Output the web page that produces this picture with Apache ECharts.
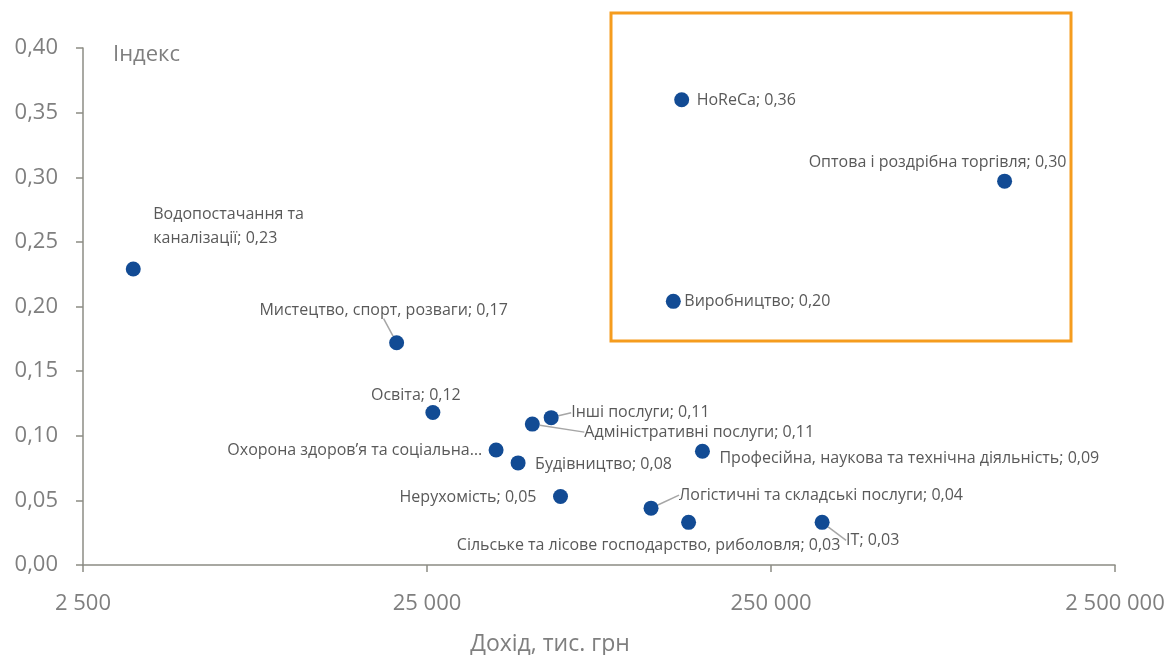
<!DOCTYPE html>
<html lang="uk">
<head>
    <meta charset="UTF-8">
    <title>Індекс vs дохід</title>
    <style>
        html, body { margin: 0; padding: 0; width: 100%; height: 100%; overflow: hidden; background: #fff; }
        #chart { width: 100%; height: 100%; }
    </style>
</head>
<body>
<div id="chart"></div>
<script src="https://cdn.jsdelivr.net/npm/echarts@6/dist/echarts.min.js"></script>
<script>
    // дані
    const sectors = [
        'Водопостачання та каналізації',
        'Мистецтво, спорт, розваги',
        'Освіта',
        'Охорона здоров’я та соціальна допомога',
        'Будівництво',
        'Адміністративні послуги',
        'Інші послуги',
        'Нерухомість',
        'Логістичні та складські послуги',
        'HoReCa',
        'Виробництво',
        'Сільське та лісове господарство, риболовля',
        'Професійна, наукова та технічна діяльність',
        'IT',
        'Оптова і роздрібна торгівля'
    ]
    // дохід, тис. грн
    const income = [3500, 20400, 26000, 39700, 46000, 50600, 57400, 61100, 112000, 137500, 130000, 144000, 158000, 352000, 1194000]
    const indexValues = [0.229, 0.172, 0.118, 0.089, 0.079, 0.109, 0.114, 0.053, 0.044, 0.36, 0.204, 0.033, 0.088, 0.033, 0.297]
    const xTicks = [2500, 25000, 250000, 2500000]

    // розміщення підписів: [dx, dy, align] від центру точки
    const labelPlace = [
        [20, -43, 'left'],
        [-13, -32, 'center'],
        [-17, -17, 'center'],
        [-14, 0, 'right'],
        [17, 2, 'left'],
        [52, 8, 'left'],
        [20, -5, 'left'],
        [-24, 1, 'right'],
        [28, -13, 'left'],
        [15, 1, 'left'],
        [11, 0, 'left'],
        [-40, 23, 'center'],
        [17, 7, 'left'],
        [24, 18, 'left'],
        [-67, -19, 'center']
    ]
    const withLine = [1, 5, 6, 8, 13]

    const fmt = v => v.toFixed(2).replace('.', ',')
    const thousands = v => String(v).replace(/\B(?=(\d{3})+(?!\d))/g, ' ')

    const points = sectors.map((name, i) => {
        const item = {
            name: name,
            value: [Math.log10(income[i] / xTicks[0]), indexValues[i]]
        }
        if (withLine.indexOf(i) >= 0) item.labelLine = { show: true }
        if (i === 0) item.label = { lineHeight: 24 }
        return item
    })

    const chart = echarts.init(document.getElementById('chart'))
    chart.setOption({
        textStyle: { fontFamily: 'Open Sans' },
        animation: false,
        grid: { left: 83, right: 60, top: 48, bottom: 90, outerBoundsMode: 'none', containLabel: false },
        xAxis: {
            type: 'value',
            min: 0,
            max: xTicks.length - 1,
            interval: 1,
            name: 'Дохід, тис. грн',
            nameLocation: 'middle',
            nameGap: 68,
            nameTextStyle: { fontSize: 23, color: '#7f7f7f', padding: [0, 98, 0, 0] },
            splitLine: { show: false },
            axisLine: { lineStyle: { color: '#8c8c84', width: 1.5 } },
            axisTick: { show: true, length: 7, lineStyle: { color: '#8c8c84', width: 1.5 } },
            axisLabel: {
                fontSize: 22,
                color: '#7f7f7f',
                margin: 28,
                formatter: v => thousands(xTicks[Math.round(v)])
            }
        },
        yAxis: {
            type: 'value',
            min: 0,
            max: 0.4,
            interval: 0.05,
            name: 'Індекс',
            nameLocation: 'end',
            nameGap: -7,
            nameTextStyle: { fontSize: 22, color: '#7f7f7f', align: 'left', verticalAlign: 'middle', padding: [0, 0, 0, 30] },
            splitLine: { show: false },
            axisLine: { show: true, lineStyle: { color: '#8c8c84', width: 1.5 } },
            axisTick: { show: true, length: 7, lineStyle: { color: '#8c8c84', width: 1.5 } },
            axisLabel: {
                fontSize: 22,
                color: '#7f7f7f',
                margin: 25,
                formatter: fmt
            }
        },
        graphic: [{
            type: 'rect',
            shape: { x: 611, y: 13, width: 460, height: 328 },
            style: { fill: 'none', stroke: '#f59c1e', lineWidth: 3 },
            z: 1
        }],
        series: [{
            type: 'scatter',
            symbolSize: 15,
            itemStyle: { color: '#124b94', opacity: 1 },
            data: points,
            label: {
                show: true,
                fontSize: 16,
                color: '#595959',
                formatter: p => {
                    const t = p.name + '; ' + fmt(p.value[1])
                    if (p.dataIndex === 0) return t.replace(' та ', ' та\n')
                    if (p.dataIndex === 3) return p.name.slice(0, p.name.lastIndexOf(' ')) + '…'
                    return t
                }
            },
            labelLine: {
                show: false,
                lineStyle: { color: '#a6a6a6', width: 1.5 }
            },
            labelLayout: p => {
                const pl = labelPlace[p.dataIndex]
                const cx = p.rect.x + p.rect.width / 2
                const cy = p.rect.y + p.rect.height / 2
                return { x: cx + pl[0], y: cy + pl[1], align: pl[2], verticalAlign: 'middle' }
            }
        }]
    })
</script>
</body>
</html>
